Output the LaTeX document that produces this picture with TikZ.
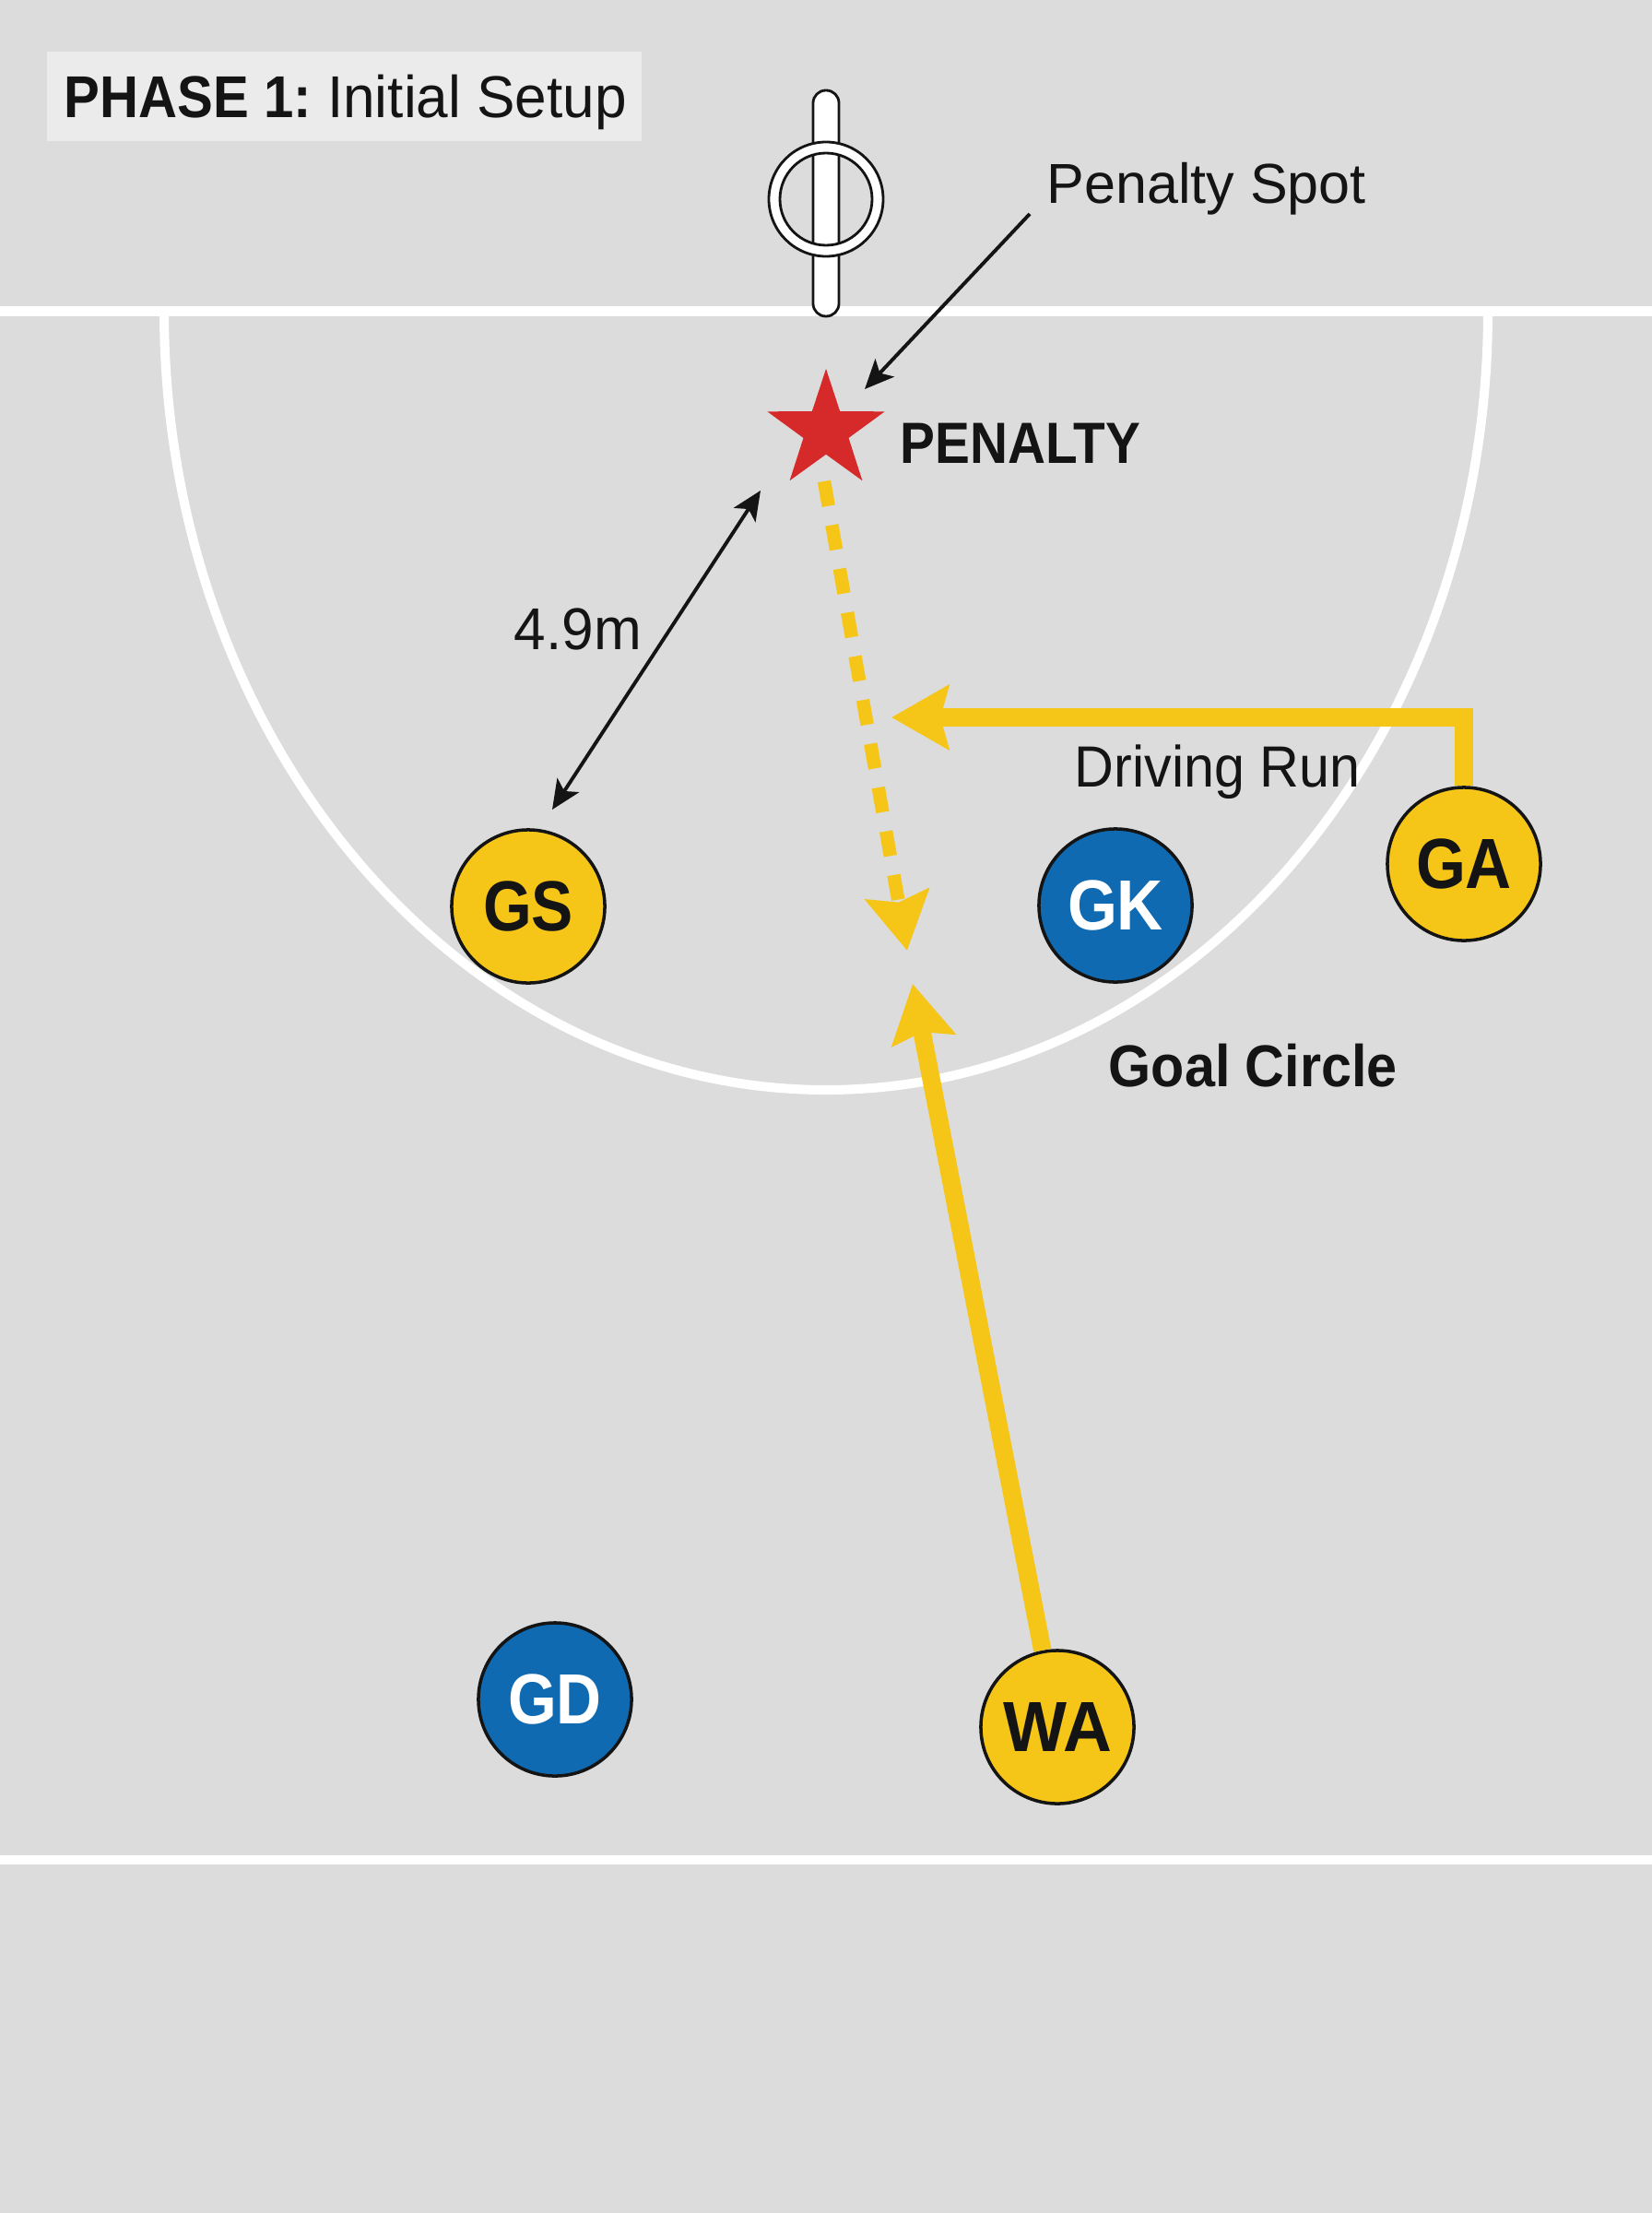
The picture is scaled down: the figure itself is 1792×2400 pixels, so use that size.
\documentclass[tikz,border=0pt]{standalone}
\usepackage{graphicx}
\usepackage{fontspec}
\setmainfont{Liberation Sans}
\usetikzlibrary{arrows.meta,shapes.geometric}
\definecolor{bgc}{HTML}{DCDCDC}
\definecolor{boxc}{HTML}{EBEBEB}
\definecolor{ylw}{HTML}{F5C518}
\definecolor{blu}{HTML}{0F6AB1}
\definecolor{redc}{HTML}{D62A2A}
\definecolor{ink}{HTML}{141414}
\newcommand{\fsz}[1]{\fontsize{#1}{#1}\selectfont}
\newcommand{\sx}[2]{\scalebox{#1}[1]{#2}}
\begin{document}
\begin{tikzpicture}[x=0.01cm,y=-0.01cm,
  player/.style={circle, draw=ink, line width=1pt, minimum size=1.66cm, inner sep=0pt, font=\fsz{21.9pt}\bfseries},
  yplayer/.style={player, fill=ylw, text=ink},
  bplayer/.style={player, fill=blu, text=white},
  lbl/.style={anchor=base west, inner sep=0pt, text=ink},
  thinarrow/.style={draw=ink, line width=1.1pt, -{Stealth[length=9pt,width=8pt,inset=2.2pt]}},
  dimarrow/.style={draw=ink, line width=1.1pt, {Stealth[length=9pt,width=8pt,inset=2.2pt]}-{Stealth[length=9pt,width=8pt,inset=2.2pt]}},
  runarrow/.style={draw=ylw, line width=5.5pt, -{Stealth[length=17.6pt,width=19.6pt,inset=2.5pt]}},
  courtline/.style={fill=white},
  postbox/.style={fill=white, draw=ink, line width=0.8pt},
]
\useasboundingbox (0,0) rectangle (1792,2400);
\fill[bgc] (0,0) rectangle (1792,2400);

% court lines
\fill[courtline] (0,332) rectangle (1792,343);
\fill[courtline] (0,2012) rectangle (1792,2022);
\draw[white, line width=2.85pt] (178,337) arc[start angle=180, end angle=0, x radius=718, y radius=845];

% goal post and ring
\draw[postbox, rounded corners=3.9pt] (882,98) rectangle (910,343);
\draw[postbox, even odd rule] (896,216) circle[radius=62] (896,216) circle[radius=50];

% title
\fill[boxc] (51,56) rectangle (696,153);
\node[lbl, font=\fsz{18.21pt}] (title) at (69,128) {\sx{0.908}{\textbf{PHASE 1:}}\hspace{0.27em}\sx{0.97}{Initial Setup}};

% penalty star
\node[star, star points=5, star point ratio=2.6, fill=redc, minimum size=1.34cm, inner sep=0pt] (pen) at (896,467) {};
\node[lbl, font=\fsz{17.93pt}\bfseries] (pentxt) at (976,502) {\sx{0.90}{PENALTY}};
\node[lbl, font=\fsz{17.36pt}] (spot) at (1135,220) {\sx{1.0}{Penalty Spot}};

% labels
\node[lbl, font=\fsz{18.21pt}] (dist) at (557,704) {\sx{0.97}{4.9m}};
\node[lbl, font=\fsz{17.93pt}] (drive) at (1165,853) {\sx{0.94}{Driving Run}};
\node[lbl, font=\fsz{18.21pt}\bfseries] (goalc) at (1202,1178) {\sx{0.926}{Goal Circle}};

% players
\node[yplayer] (gs) at (573,983) {\sx{0.88}{GS}};
\node[bplayer] (gk) at (1210,982) {\sx{0.9}{GK}};
\node[yplayer] (ga) at (1588,937) {\sx{0.9}{GA}};
\node[bplayer] (gd) at (602,1843) {\sx{0.88}{GD}};
\node[yplayer] (wa) at (1147,1873) {\sx{0.95}{WA}};

% connector end points
\coordinate (spotA) at (1117,232);
\coordinate (spotB) at (938,422);
\coordinate (distA) at (599,878);
\coordinate (distB) at (825,532);
\coordinate (passA) at (894,522);
\coordinate (passB) at (984,1031);
\coordinate (driveEnd) at (967,778);
\coordinate (waTip) at (990,1067);

% connectors
\draw[thinarrow] (spotA) -- (spotB);
\draw[dimarrow] (distA) -- (distB);
\draw[runarrow, line width=4.1pt, dash pattern=on 7.7pt off 6pt] (passA) -- (passB);
\draw[runarrow, line join=miter] (ga.north) -- (ga.north |- driveEnd) -- (driveEnd);
\draw[runarrow] (wa) -- (waTip);
\end{tikzpicture}
\end{document}
